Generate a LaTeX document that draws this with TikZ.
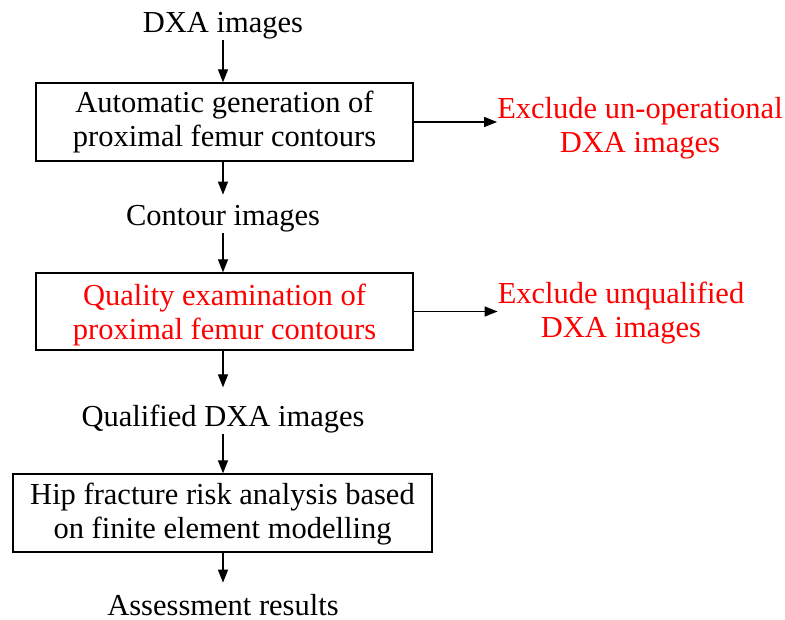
\documentclass[tikz,border=0pt]{standalone}
\usepackage{fontspec}
\setmainfont{Liberation Serif}
\usetikzlibrary{arrows.meta}
\begin{document}
\begin{tikzpicture}[x=1pt,y=1pt,
  every node/.style={font=\fontsize{30.5}{34.5}\selectfont},
  lbl/.style={inner sep=0pt, anchor=base},
  procbox/.style={draw, line width=1.3pt, inner sep=0pt},
  boxtxt/.style={inner sep=0pt, align=center, anchor=base},
  redtxt/.style={text=red, align=center, inner sep=0pt, anchor=base},
  arr/.style={line width=1.3pt, -{Triangle[length=13pt,width=10pt]}}]
\useasboundingbox (0,0) rectangle (785,619);
% boxes
\node[procbox, minimum width=377pt, minimum height=78pt] (b1) at (224.5,497) {};
\node[procbox, minimum width=377pt, minimum height=77pt] (b2) at (224.5,307.5) {};
\node[procbox, minimum width=419pt, minimum height=78pt] (b3) at (222.5,106) {};
% texts
\node[lbl] (t1) at (223,586) {DXA images};
\node[boxtxt] (x1) at (224.5,472) {Automatic generation of\\proximal femur contours};
\node[lbl] (t2) at (223,393) {Contour images};
\node[boxtxt, text=red] (x2) at (224.5,279) {Quality examination of\\proximal femur contours};
\node[lbl] (t3) at (223,192) {Qualified DXA images};
\node[boxtxt] (x3) at (222.5,80) {Hip fracture risk analysis based\\on finite element modelling};
\node[lbl] (t4) at (223,4) {Assessment results};
\node[redtxt] (r1) at (640,466) {Exclude un-operational\\DXA images};
\node[redtxt] (r2) at (621,281) {Exclude unqualified\\DXA images};
% arrows
\draw[arr] (t1.south) -- (t1.south |- b1.north);
\draw[arr, shorten >=11pt] (t2.north |- b1.south) -- (t2.north);
\draw[arr] (t2.south) -- (t2.south |- b2.north);
\draw[arr, shorten >=18pt] (t3.north |- b2.south) -- (t3.north);
\draw[arr] (t3.south) -- (t3.south |- b3.north);
\draw[arr, shorten >=11pt] (t4.north |- b3.south) -- (t4.north);
\draw[arr] (b1.east) -- (b1.east -| r1.west);
\draw[arr] (b2.east) -- (b2.east -| r2.west);
\end{tikzpicture}
\end{document}
